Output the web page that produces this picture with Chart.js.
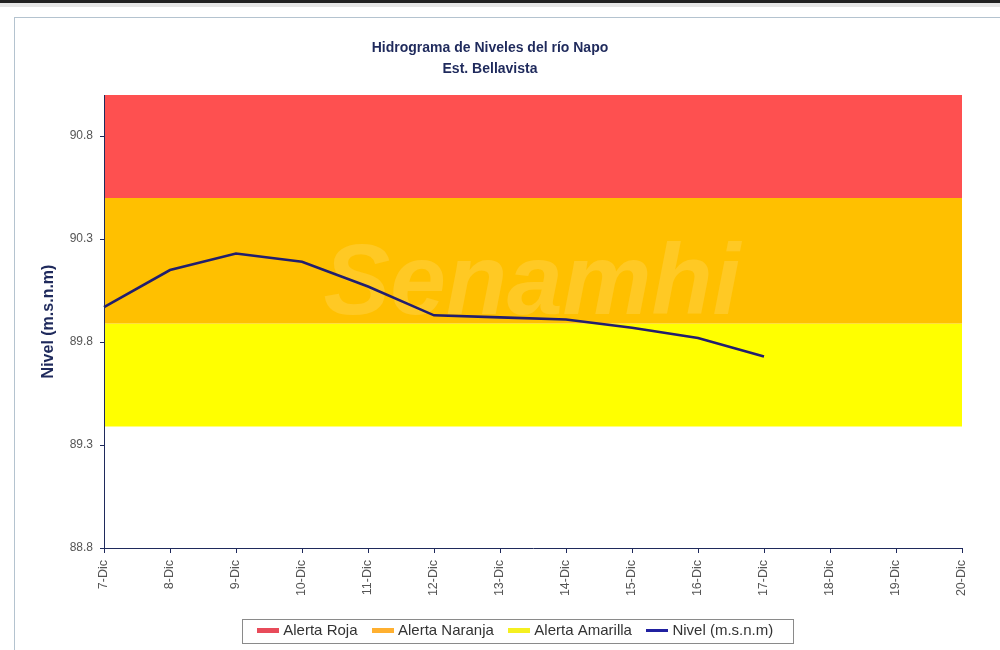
<!DOCTYPE html>
<html>
<head>
<meta charset="utf-8">
<script src="https://cdn.jsdelivr.net/npm/chart.js@4.4.1/dist/chart.umd.min.js"></script>
<style>
  html, body { margin: 0; padding: 0; background: #fff; }
  #wrap { position: relative; width: 1000px; height: 650px; overflow: hidden; }
  #topbar { position: absolute; left: 0; top: 0; width: 1000px; height: 3px; background: #222; }
  #topgray { position: absolute; left: 0; top: 3px; width: 1000px; height: 4px; background: #e6e6e6; }
  #frame { position: absolute; left: 14px; top: 17px; width: 1000px; height: 700px; border: 1px solid #b4c3cf; }
  #chart { position: absolute; left: 0; top: 0; }
</style>
</head>
<body>
<div id="wrap">
  <div id="topbar"></div>
  <div id="topgray"></div>
  <div id="frame"></div>
  <canvas id="chart" width="1000" height="650"></canvas>
</div>
<script>
// Datos del hidrograma - Est. Bellavista (río Napo)
const dias = ['7-Dic', '8-Dic', '9-Dic', '10-Dic', '11-Dic', '12-Dic', '13-Dic',
              '14-Dic', '15-Dic', '16-Dic', '17-Dic', '18-Dic', '19-Dic', '20-Dic'];

// Nivel observado (m.s.n.m), sin datos desde el 18-Dic
const nivel = [89.97, 90.15, 90.23, 90.19, 90.07, 89.93, 89.92,
               89.91, 89.87, 89.82, 89.73, null, null, null];

// Umbrales de alerta (límite inferior de cada franja)
const alertaRoja     = [90.5, 90.5, 90.5, 90.5, 90.5, 90.5, 90.5, 90.5, 90.5, 90.5, 90.5, 90.5, 90.5, 90.5];
const alertaNaranja  = [89.89, 89.89, 89.89, 89.89, 89.89, 89.89, 89.89, 89.89, 89.89, 89.89, 89.89, 89.89, 89.89, 89.89];
const alertaAmarilla = [89.39, 89.39, 89.39, 89.39, 89.39, 89.39, 89.39, 89.39, 89.39, 89.39, 89.39, 89.39, 89.39, 89.39];

// Ticks del eje Y
const ticksY = [88.8, 89.3, 89.8, 90.3, 90.8];
const yMin = 88.8;
const yMax = 91.0;

const FONT = '"Liberation Sans", Arial, sans-serif';
const AZUL = '#1f2a5c';
const LINEA = '#221e6e';

// pequeñas muestras para la leyenda
function muestra(color, w, h) {
    const c = document.createElement('canvas');
    c.width = w; c.height = h;
    const ctx = c.getContext('2d');
    ctx.fillStyle = color;
    ctx.fillRect(0, 0, w, h);
    return c;
}

const colores = {
    roja: '#fe5050',
    naranja: '#ffc000',
    amarilla: '#ffff00'
};

// marca de agua "Senamhi"
const marcaAgua = {
    id: 'marcaAgua',
    beforeDatasetsDraw(chart) {
        const ctx = chart.ctx;
        ctx.save();
        ctx.fillStyle = 'rgba(255,255,255,0.14)';
        ctx.font = 'italic bold 100px ' + FONT;
        ctx.textAlign = 'center';
        ctx.textBaseline = 'middle';
        ctx.fillText('Senamhi', 532, 286);
        ctx.restore();
    }
};

// la leyenda del original no está centrada: se corre un poco a la derecha
const DESPLAZA_LEYENDA = 27;
const moverLeyenda = {
    id: 'moverLeyenda',
    afterLayout(chart) {
        const lg = chart.legend;
        if (!lg) return;
        lg.left += DESPLAZA_LEYENDA;
        lg.right += DESPLAZA_LEYENDA;
        (lg.legendHitBoxes || []).forEach(h => { h.left += DESPLAZA_LEYENDA; });
    }
};

// recuadro alrededor de la leyenda
const bordeLeyenda = {
    id: 'bordeLeyenda',
    afterDraw(chart) {
        const hb = chart.legend && chart.legend.legendHitBoxes;
        if (!hb || !hb.length) return;
        const first = hb[0], last = hb[hb.length - 1];
        const cy = first.top + first.height / 2;
        const x0 = first.left - 19;
        const x1 = last.left + last.width + 20;
        const ctx = chart.ctx;
        ctx.save();
        ctx.strokeStyle = '#8a8a8a';
        ctx.lineWidth = 1;
        ctx.strokeRect(Math.round(x0) + 0.5, Math.round(cy - 12) + 0.5, Math.round(x1 - x0), 24);
        ctx.restore();
    }
};

const ctx = document.getElementById('chart');

new Chart(ctx, {
    type: 'line',
    data: {
        labels: dias,
        datasets: [
            {
                label: 'Alerta Roja',
                data: alertaRoja,
                borderWidth: 0,
                pointRadius: 0,
                backgroundColor: colores.roja,
                fill: 'end',
                pointStyle: muestra('#e84b5a', 22, 5)
            },
            {
                label: 'Alerta Naranja',
                data: alertaNaranja,
                borderWidth: 0,
                pointRadius: 0,
                backgroundColor: colores.naranja,
                fill: '-1',
                pointStyle: muestra('#ffb030', 22, 5)
            },
            {
                label: 'Alerta Amarilla',
                data: alertaAmarilla,
                borderWidth: 0,
                pointRadius: 0,
                backgroundColor: colores.amarilla,
                fill: '-1',
                pointStyle: muestra('#f5f020', 22, 5)
            },
            {
                label: 'Nivel (m.s.n.m)',
                data: nivel,
                borderColor: LINEA,
                borderWidth: 2.6,
                pointRadius: 0,
                tension: 0,
                fill: false,
                spanGaps: false,
                pointStyle: muestra('#2020a0', 22, 3)
            }
        ]
    },
    options: {
        responsive: false,
        animation: false,
        layout: { padding: { left: 18, right: 38, top: 0, bottom: 2 } },
        plugins: {
            filler: { drawTime: 'beforeDatasetsDraw' },
            title: {
                display: true,
                text: ['Hidrograma de Niveles del río Napo', 'Est. Bellavista'],
                color: AZUL,
                font: { family: FONT, size: 14, weight: 'bold', lineHeight: 1.5 },
                padding: { top: 38, bottom: 15 }
            },
            legend: {
                position: 'bottom',
                labels: {
                    usePointStyle: true,
                    color: '#333',
                    font: { family: FONT, size: 15 },
                    padding: 18
                }
            },
            tooltip: { enabled: false }
        },
        scales: {
            x: {
                offset: false,
                grid: {
                    drawOnChartArea: false,
                    color: AZUL,
                    tickLength: 5
                },
                border: { color: AZUL, width: 1, z: 1 },
                ticks: {
                    color: '#555',
                    font: { family: FONT, size: 12.5 },
                    minRotation: 90,
                    maxRotation: 90,
                    autoSkip: false,
                    padding: 7
                },
                afterFit(scale) { scale.height = 57; }
            },
            y: {
                min: yMin,
                max: yMax,
                afterBuildTicks(scale) {
                    scale.ticks = ticksY.map(v => ({ value: v }));
                },
                grid: {
                    drawOnChartArea: false,
                    color: AZUL,
                    tickLength: 4
                },
                border: { color: AZUL, width: 1, z: 1 },
                ticks: {
                    color: '#555',
                    font: { family: FONT, size: 12 },
                    padding: 7,
                    callback: v => Number(v).toFixed(1)
                },
                title: {
                    display: true,
                    text: 'Nivel (m.s.n.m)',
                    color: AZUL,
                    font: { family: FONT, size: 16, weight: 'bold' },
                    padding: { top: 21, bottom: 0 }
                },
                afterFit(scale) { scale.width = 86; }
            }
        }
    },
    plugins: [marcaAgua, moverLeyenda, bordeLeyenda]
});
</script>
</body>
</html>
